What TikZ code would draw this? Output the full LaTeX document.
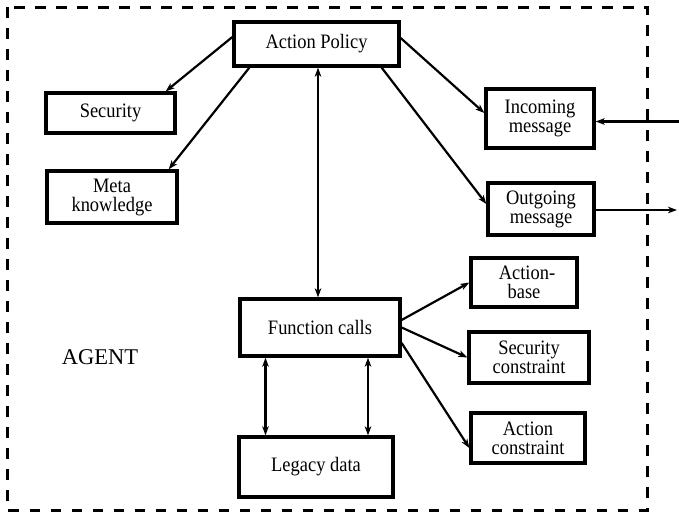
\documentclass[tikz,border=0pt]{standalone}
\usepackage{fontspec}
\setmainfont[FakeStretch=0.9]{Liberation Serif}
\newfontfamily\agentfont{Liberation Serif}
\usetikzlibrary{arrows.meta,calc}
\begin{document}
\begin{tikzpicture}[x=1pt,y=-1pt,
  tip/.tip={Stealth[length=9pt,width=6.5pt,inset=2.5pt]},
  box/.style={draw,line width=3.3pt,align=center,inner sep=0pt,
    font=\fontsize{20.5}{19}\selectfont},
  link/.style={line width=2.2pt,-tip},
  twoway/.style={line width=2.2pt,tip-tip},
  frame/.style={line width=3pt,dash pattern=on 10.5pt off 10.5pt}]
  \useasboundingbox (0,0) rectangle (679,514);

  % agent boundary
  \draw[frame] (7.5,7) rectangle (647,510);

  % components
  \node[box,minimum width=165pt,minimum height=44pt] (ap) at (316.5,44) {Action Policy};
  \node[box,minimum width=129pt,minimum height=40pt] (sec) at (110.5,113) {Security};
  \node[box,minimum width=130pt,minimum height=52pt] (meta) at (112,197) {Meta\\knowledge};
  \node[box,minimum width=108pt,minimum height=59pt] (inc) at (540,118.5) {Incoming\\message};
  \node[box,minimum width=106pt,minimum height=52pt] (out) at (541,209) {Outgoing\\message};
  \node[box,minimum width=160pt,minimum height=57pt] (fc) at (320,327.5) {Function calls};
  \node[box,minimum width=106pt,minimum height=49pt] (ab) at (524,282.5) {\hspace*{6pt}Action-\\base};
  \node[box,minimum width=120pt,minimum height=51pt] (sc) at (529,357.5) {Security\\constraint};
  \node[box,minimum width=114pt,minimum height=50pt] (ac) at (528,438) {Action\\constraint};
  \node[box,minimum width=154pt,minimum height=60pt] (ld) at (316,467) {Legacy data};
  \node[font=\agentfont\fontsize{22.5}{22.5}\selectfont] (agent) at (100,357) {AGENT};

  % external message ends
  \coordinate (inext) at (679,121.5);
  \coordinate (outext) at (677,210);

  % connectors from the action policy
  \draw[link] ([yshift=7pt]ap.west) -- ([xshift=-11pt]sec.north east);
  \draw[link] ([xshift=17pt]ap.south west) -- ([xshift=-10pt]meta.north east);
  \draw[link] ([yshift=6pt]ap.east) -- ([yshift=5.5pt]inc.west);
  \draw[link] ([xshift=-19pt]ap.south east) -- ([yshift=5pt]out.west);
  \draw[twoway] ([xshift=1.5pt]ap.south) -- ([xshift=-2pt]fc.north);

  % message traffic
  \draw[link] (inext) -- (inext -| inc.east);
  \draw[link] (outext -| out.east) -- (outext);

  % connectors from the function calls
  \draw[link] ([yshift=7.5pt]fc.east) -- (ab.west);
  \draw[link] (fc.east) -- (sc.west);
  \draw[link] ([yshift=-15.5pt]fc.east) -- ([yshift=-10pt]ac.west);
  \draw[twoway] ([xshift=-54.5pt]fc.south) -- ([xshift=-54.5pt]fc.south |- ld.north);
  \draw[twoway] ([xshift=48pt]fc.south) -- ([xshift=48pt]fc.south |- ld.north);
\end{tikzpicture}
\end{document}
